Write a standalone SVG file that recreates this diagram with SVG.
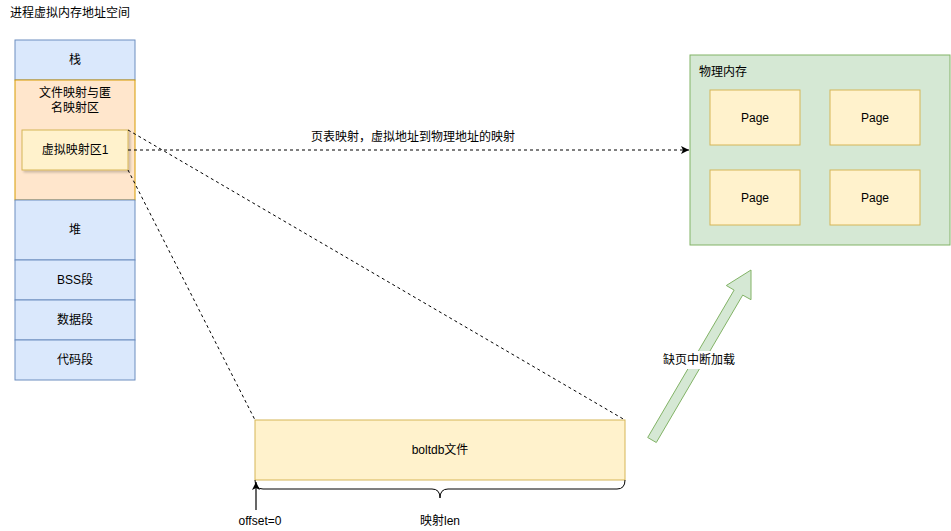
<svg xmlns="http://www.w3.org/2000/svg" width="951" height="531" viewBox="0 0 951 531">
<style>
text{font-family:"Liberation Sans","Noto Sans CJK SC",sans-serif;font-size:12px;fill:#000}
.c{text-anchor:middle;dominant-baseline:central}
.blue{fill:#dae8fc;stroke:#6c8ebf}
.orange{fill:#ffe6cc;stroke:#d79b00}
.yellow{fill:#fff2cc;stroke:#d6b656}
.green{fill:#d5e8d4;stroke:#82b366}
.dash{fill:none;stroke:#000;stroke-dasharray:3 3}
</style>
<defs>
<marker id="ah" markerWidth="10" markerHeight="10" refX="8" refY="5" orient="auto" markerUnits="userSpaceOnUse">
<path d="M0,1 L8,5 L0,9 L2,5 Z" fill="#000"/>
</marker>
<filter id="sh" x="-10%" y="-10%" width="130%" height="140%">
<feDropShadow dx="2" dy="2" stdDeviation="1" flood-color="#000" flood-opacity="0.2"/>
</filter>
</defs>
<rect width="951" height="531" fill="#fff"/>
<text x="10" y="17">进程虚拟内存地址空间</text>
<g id="stack"><rect class="blue" x="15" y="40" width="120" height="40"/><text class="c" x="75" y="60">栈</text></g>
<g id="filemap"><rect class="orange" x="15" y="80" width="120" height="120"/><text class="c" x="75" y="93">文件映射与匿</text><text class="c" x="75" y="108">名映射区</text></g>
<g id="vmap1"><rect class="yellow" x="22" y="130" width="106" height="40" filter="url(#sh)"/><text class="c" x="75" y="150">虚拟映射区1</text></g>
<g id="heap"><rect class="blue" x="15" y="200" width="120" height="60"/><text class="c" x="75" y="230">堆</text></g>
<g id="bss"><rect class="blue" x="15" y="260" width="120" height="40"/><text class="c" x="75" y="280">BSS段</text></g>
<g id="data"><rect class="blue" x="15" y="300" width="120" height="40"/><text class="c" x="75" y="320">数据段</text></g>
<g id="code"><rect class="blue" x="15" y="340" width="120" height="40"/><text class="c" x="75" y="360">代码段</text></g>
<g id="phys"><rect class="green" x="690" y="55" width="260" height="190"/><text x="699" y="76">物理内存</text></g>
<g id="page1"><rect class="yellow" x="710" y="90" width="90" height="55"/><text class="c" x="755" y="118">Page</text></g>
<g id="page2"><rect class="yellow" x="830" y="90" width="90" height="55"/><text class="c" x="875" y="118">Page</text></g>
<g id="page3"><rect class="yellow" x="710" y="170" width="90" height="55"/><text class="c" x="755" y="198">Page</text></g>
<g id="page4"><rect class="yellow" x="830" y="170" width="90" height="55"/><text class="c" x="875" y="198">Page</text></g>
<g id="boltdb"><rect class="yellow" x="255" y="420" width="370" height="60"/><text class="c" x="440" y="450">boltdb文件</text></g>
<g id="connectors">
<line class="dash" x1="128" y1="130" x2="625" y2="420"/>
<line class="dash" x1="128" y1="170" x2="255" y2="420"/>
<line class="dash" x1="128" y1="150" x2="689" y2="150" marker-end="url(#ah)"/>
<text class="c" x="413" y="137">页表映射，虚拟地址到物理地址的映射</text>
<path d="M255,480 q0,9 8,9 h169 q8,0 8,9 q0,-9 8,-9 h169 q8,0 8,-9" fill="none" stroke="#000"/>
<line x1="256" y1="510" x2="256" y2="482" stroke="#000" stroke-width="1.2" marker-end="url(#ah)"/>
<polygon class="green" points="647.7,437.5 734.1,290.1 726.3,285.5 751,270 751,299.7 742.7,295.1 656.3,442.5"/>
<rect x="658" y="351" width="82" height="18" fill="#fff"/>
<text class="c" x="699" y="360">缺页中断加载</text>
</g>
<text class="c" x="260" y="521">offset=0</text>
<text class="c" x="440" y="521">映射len</text>
</svg>
